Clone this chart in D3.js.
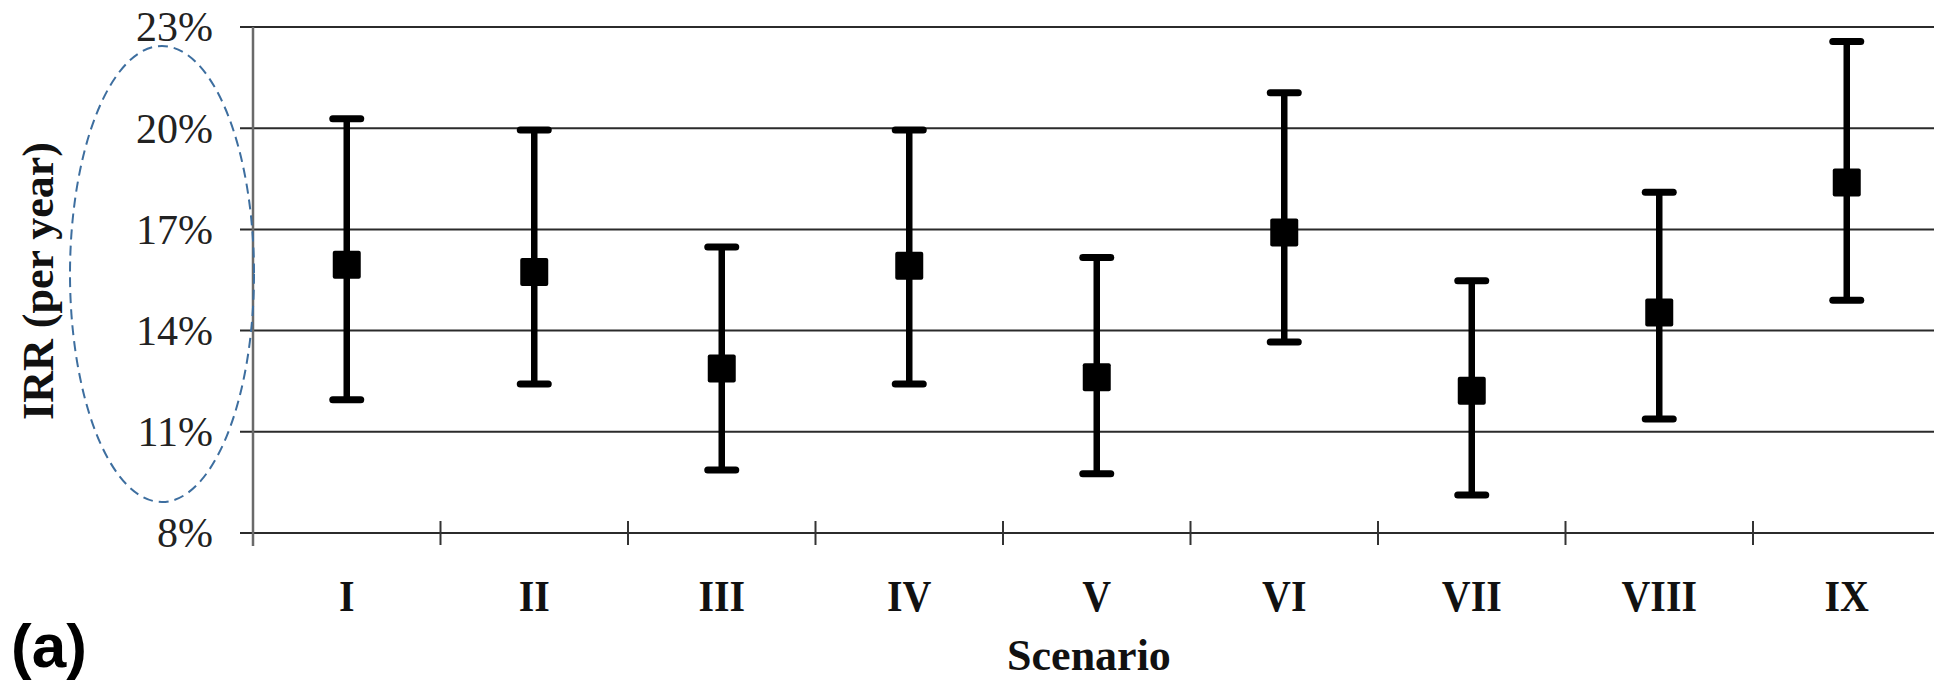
<!DOCTYPE html>
<html>
<head>
<meta charset="utf-8">
<script src="https://cdn.jsdelivr.net/npm/d3@7"></script>
<style>
  html, body { margin: 0; padding: 0; background: #fff; }
  svg { display: block; }
</style>
</head>
<body>
<div id="container"></div>
<script>
const scenarios = ['I', 'II', 'III', 'IV', 'V', 'VI', 'VII', 'VIII', 'IX'];
const irrMean = [15.95, 15.74, 12.88, 15.92, 12.62, 16.91, 12.22, 14.54, 18.39];
const irrLow = [11.95, 12.42, 9.87, 12.42, 9.76, 13.66, 9.13, 11.38, 14.9];
const irrHigh = [20.28, 19.95, 16.48, 19.95, 16.17, 21.05, 15.48, 18.1, 22.57];
const yTicks = [8, 11, 14, 17, 20, 23];

const width = 1934;
const height = 688;
const plotLeft = 253;
const plotTop = 27;
const plotBottom = 533;
const bandW = 187.5;

const data = scenarios.map((s, i) => ({
  s,
  mean: irrMean[i],
  low: irrLow[i],
  high: irrHigh[i]
}));

const svg = d3.select('#container').append('svg')
  .attr('width', width)
  .attr('height', height);

const x = d3.scaleBand()
  .domain(scenarios)
  .range([plotLeft, plotLeft + bandW * scenarios.length]);

const y = d3.scaleLinear()
  .domain([8, 23])
  .range([plotBottom, plotTop]);

// gridlines
svg.selectAll('line.grid')
  .data(yTicks)
  .enter()
  .append('line')
  .attr('class', 'grid')
  .attr('x1', plotLeft - 13)
  .attr('x2', width)
  .attr('y1', d => y(d))
  .attr('y2', d => y(d))
  .attr('stroke', '#2b2b2b')
  .attr('stroke-width', 2);

// y axis (labels only, line drawn below)
const yAxis = d3.axisLeft(y)
  .tickValues(yTicks)
  .tickSize(0)
  .tickPadding(40)
  .tickFormat(d => d + '%');

const gy = svg.append('g')
  .attr('transform', `translate(${plotLeft},0)`)
  .call(yAxis);
gy.select('.domain').remove();
gy.selectAll('text')
  .attr('font-family', '"Liberation Serif", "Times New Roman", serif')
  .attr('font-size', 42)
  .attr('fill', '#222')
  .attr('dy', '0.33em');

svg.append('line')
  .attr('x1', plotLeft).attr('x2', plotLeft)
  .attr('y1', plotTop).attr('y2', plotBottom + 13)
  .attr('stroke', '#6a6a6a')
  .attr('stroke-width', 2.5);

// x axis: ticks between categories, crossing the axis line
const bounds = scenarios.slice(1).map(s => x(s));
svg.selectAll('line.xtick')
  .data(bounds)
  .enter()
  .append('line')
  .attr('class', 'xtick')
  .attr('x1', d => d).attr('x2', d => d)
  .attr('y1', plotBottom - 12).attr('y2', plotBottom + 12)
  .attr('stroke', '#333')
  .attr('stroke-width', 2);

svg.selectAll('text.xlab')
  .data(scenarios)
  .enter()
  .append('text')
  .attr('class', 'xlab')
  .attr('transform', d => `translate(${x(d) + x.bandwidth() / 2},611) scale(1,1.12)`)
  .attr('text-anchor', 'middle')
  .attr('font-family', '"Liberation Serif", "Times New Roman", serif')
  .attr('font-weight', 'bold')
  .attr('font-size', 40)
  .attr('fill', '#111')
  .text(d => d);

// error bars
const cx = d => x(d.s) + x.bandwidth() / 2;
const bars = svg.append('g');

bars.selectAll('line.stem')
  .data(data)
  .enter()
  .append('line')
  .attr('x1', cx).attr('x2', cx)
  .attr('y1', d => y(d.high)).attr('y2', d => y(d.low))
  .attr('stroke', '#000')
  .attr('stroke-width', 6.5);

bars.selectAll('line.capHi')
  .data(data)
  .enter()
  .append('line')
  .attr('x1', d => cx(d) - 14).attr('x2', d => cx(d) + 14)
  .attr('y1', d => y(d.high)).attr('y2', d => y(d.high))
  .attr('stroke', '#000')
  .attr('stroke-width', 7)
  .attr('stroke-linecap', 'round');

bars.selectAll('line.capLo')
  .data(data)
  .enter()
  .append('line')
  .attr('x1', d => cx(d) - 14).attr('x2', d => cx(d) + 14)
  .attr('y1', d => y(d.low)).attr('y2', d => y(d.low))
  .attr('stroke', '#000')
  .attr('stroke-width', 7)
  .attr('stroke-linecap', 'round');

bars.selectAll('rect')
  .data(data)
  .enter()
  .append('rect')
  .attr('x', d => cx(d) - 14)
  .attr('y', d => y(d.mean) - 14)
  .attr('width', 28)
  .attr('height', 28)
  .attr('rx', 2)
  .attr('fill', '#000');

// axis titles
svg.append('text')
  .attr('transform', 'translate(53,281) rotate(-90)')
  .attr('text-anchor', 'middle')
  .attr('font-family', '"Liberation Serif", "Times New Roman", serif')
  .attr('font-weight', 'bold')
  .attr('font-size', 44)
  .attr('fill', '#111')
  .text('IRR (per year)');

svg.append('text')
  .attr('x', 1089)
  .attr('y', 670)
  .attr('text-anchor', 'middle')
  .attr('font-family', '"Liberation Serif", "Times New Roman", serif')
  .attr('font-weight', 'bold')
  .attr('font-size', 44)
  .attr('fill', '#111')
  .text('Scenario');

svg.append('text')
  .attr('x', 11)
  .attr('y', 667)
  .attr('font-family', '"Liberation Sans", Arial, sans-serif')
  .attr('font-weight', 'bold')
  .attr('font-size', 62)
  .attr('fill', '#000')
  .text('(a)');

// dashed highlight round the y tick labels
svg.append('ellipse')
  .attr('cx', 162)
  .attr('cy', 274)
  .attr('rx', 92)
  .attr('ry', 228)
  .attr('fill', 'none')
  .attr('stroke', '#3d6e9f')
  .attr('stroke-width', 2)
  .attr('stroke-dasharray', '10,6');
</script>
</body>
</html>
